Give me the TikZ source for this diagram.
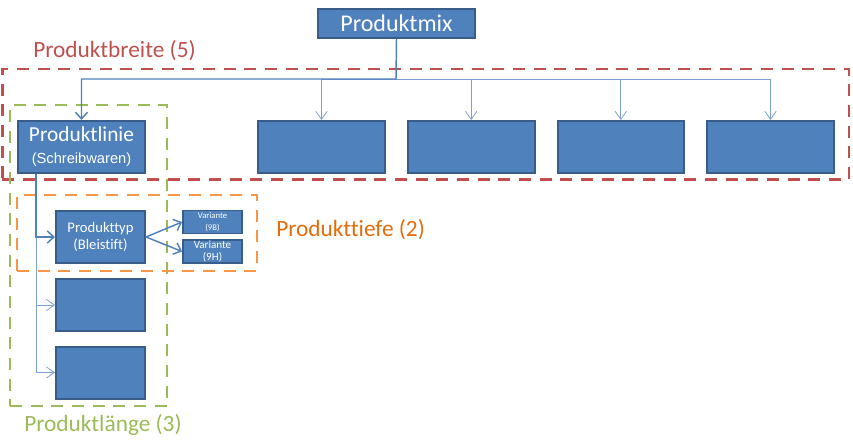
\documentclass[tikz,border=0pt]{standalone}
\usepackage{fontspec}
\setmainfont{Carlito}[Ligatures=NoCommon]
\newfontfamily\arialfont{Liberation Sans}
\usetikzlibrary{arrows.meta, positioning}
\definecolor{boxblue}{RGB}{79,129,189}
\definecolor{boxedge}{RGB}{56,93,138}
\definecolor{linkblue}{RGB}{79,129,189}
\definecolor{linklight}{RGB}{125,160,210}
\definecolor{breitered}{RGB}{192,80,77}
\definecolor{laengegreen}{RGB}{155,187,89}
\definecolor{tiefeorange}{RGB}{247,150,70}
\definecolor{tiefetext}{RGB}{228,108,10}

\begin{document}
\begin{tikzpicture}[x=0.75pt, y=-0.75pt,
    itembox/.style={rectangle, draw=boxedge, fill=boxblue, line width=1.5pt, inner sep=0pt, align=center, text=white, minimum width=95pt, minimum height=39pt},
    typbox/.style={itembox, minimum width=66.75pt, font=\fontsize{11}{13.3}\selectfont},
    variantbox/.style={itembox, line width=1.1pt, minimum width=44.5pt, minimum height=17pt},
    frame/.style={rectangle, dash pattern=on 9pt off 6.5pt, line width=2pt, inner sep=0pt},
    framelabel/.style={anchor=west, inner sep=0pt, font=\fontsize{17.5}{20}\selectfont},
    mainlink/.style={-{Straight Barb[length=5pt, width=9pt]}, line width=1.1pt, color=linkblue},
    sublink/.style={-{Straight Barb[length=6pt, width=8.5pt]}, line width=0.6pt, color=linklight}
]
\useasboundingbox (0,0) rectangle (853,445);
% Breite: top row
\node[itembox, minimum width=117.5pt, minimum height=21.75pt, font=\fontsize{18}{21}\selectfont] (mix) at (396.5,23.5) {Produktmix};
\node[itembox, font=\fontsize{16}{16.5}\selectfont] (linie) at (81.5,147) {Produktlinie\\{\arialfont\fontsize{11}{12}\selectfont(Schreibwaren)}};
\node[itembox] (b2) at (321.5,147) {};
\node[itembox, right=15.75pt of b2] (b3) {};
\node[itembox, right=15.75pt of b3] (b4) {};
\node[itembox, right=15.75pt of b4] (b5) {};
% Laenge and Tiefe
\node[typbox] (typ) at (100.5,237) {Produkttyp\\(Bleistift)};
\node[typbox] (b6) at (100.5,305) {};
\node[typbox] (b7) at (100.5,372.5) {};
\node[variantbox, font=\fontsize{6.5}{8.5}\selectfont] (v9b) at (212.5,222) {Variante\\(9B)};
\node[variantbox, minimum height=17.5pt, font=\fontsize{8.3}{9.5}\selectfont] (v9h) at (212.5,251.5) {Variante\\(9H)};
% dashed frames
\node[frame, draw=breitered, minimum width=635pt, minimum height=83pt] (breite) at (425.5,124.5) {};
\node[frame, draw=laengegreen, minimum width=117.75pt, minimum height=225.75pt] (laenge) at (88.5,255.5) {};
\node[frame, draw=tiefeorange, minimum width=180pt, minimum height=57pt] (tiefe) at (137,233) {};
\node[framelabel, text=breitered] (breitelabel) at (33,51) {Produktbreite (5)};
\node[framelabel, text=tiefetext] (tiefelabel) at (276,230) {Produkttiefe (2)};
\node[framelabel, text=laengegreen] (laengelabel) at (24,425) {Produktlänge (3)};
% connectors
\coordinate (bus) at (396,79);
\coordinate (stem) at (36,174);
\foreach \n in {b2,b3,b4,b5}
    \draw[sublink] (bus) -| (\n.north);
\draw[mainlink] (mix.south) -- (bus) -| (linie.north);
\foreach \n in {b6,b7}
    \draw[sublink] (linie.south -| stem) |- (\n.west);
\draw[mainlink] (linie.south -| stem) |- (typ.west);
\draw[mainlink] (typ.east) -- (v9b.west);
\draw[mainlink] (typ.east) -- (v9h.west);
\end{tikzpicture}
\end{document}
